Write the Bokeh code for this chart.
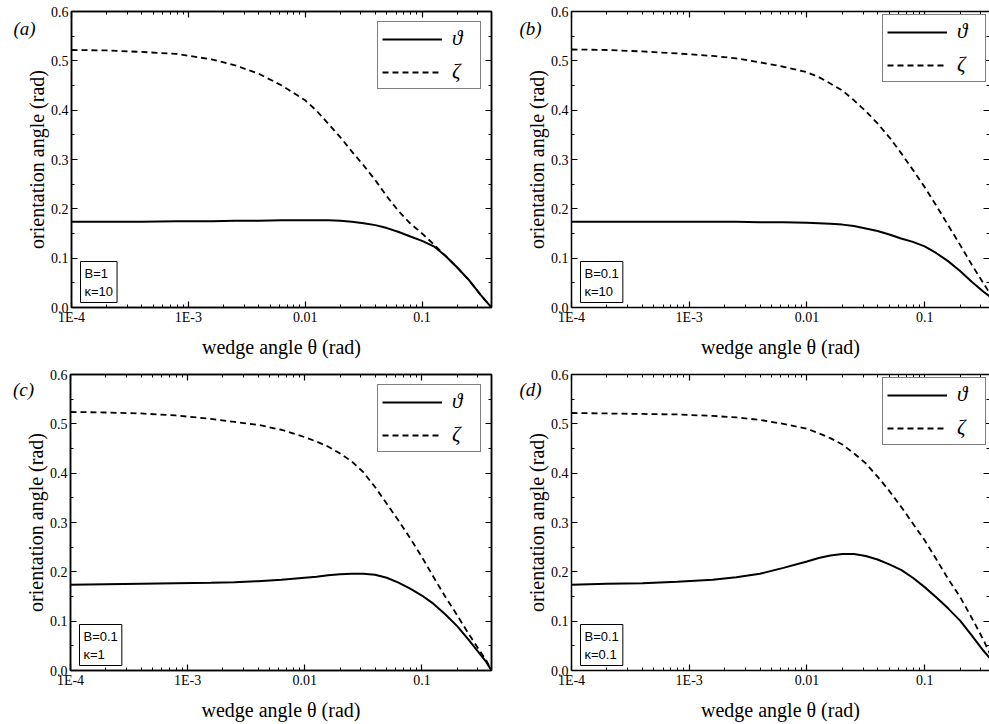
from bokeh.plotting import figure
from bokeh.layouts import column, row
from bokeh.models import (Range1d, LogAxis, LinearAxis, FixedTicker, NumeralTickFormatter,
                          Legend, LegendItem, Label, CustomJSTickFormatter)
from bokeh.embed import file_html
from bokeh.resources import INLINE

# ---------------- data ----------------
wedge = [1e-4, 2e-4, 4e-4, 7.9e-4, 1.58e-3, 2.51e-3, 3.98e-3, 6.31e-3, 0.01, 0.0126,
         0.0158, 0.02, 0.0251, 0.0316, 0.0398, 0.0501, 0.0631, 0.0794, 0.1, 0.126,
         0.158, 0.2, 0.251, 0.316, 0.355, 0.3927]

theta_a = [.174, .174, .174, .175, .175, .176, .176, .177, .177, .177, .177, .176, .174,
           .171, .167, .161, .153, .144, .135, .124, .105, .081, .056, .026, .012, 0.0]
zeta_a = [.522, .521, .518, .514, .503, .491, .474, .450, .420, .398, .372, .345, .316,
          .288, .258, .225, .195, .170, .150, .128, .105, .081, .056, .026, .012, 0.0]

theta_b = [.174, .174, .174, .174, .174, .174, .173, .173, .172, .171, .170, .168, .165,
           .160, .155, .148, .140, .133, .124, .110, .094, .074, .052, .032, .023, .013]
zeta_b = [.523, .522, .519, .515, .510, .505, .497, .488, .477, .467, .454, .440, .420,
          .398, .373, .345, .313, .279, .244, .206, .167, .127, .087, .049, .030, .013]

theta_c = [.174, .175, .176, .177, .178, .179, .181, .184, .188, .190, .193, .195, .196,
           .196, .194, .188, .178, .166, .152, .135, .114, .090, .062, .032, .017, 0.0]
zeta_c = [.524, .523, .521, .517, .510, .504, .498, .488, .473, .464, .454, .440, .424,
          .402, .372, .338, .304, .268, .230, .189, .150, .112, .074, .038, .020, 0.0]

theta_d = [.174, .176, .177, .180, .184, .189, .196, .208, .221, .228, .233, .236, .236,
           .232, .225, .215, .204, .188, .169, .148, .126, .101, .071, .040, .026, .012]
zeta_d = [.522, .521, .520, .519, .516, .513, .508, .500, .490, .481, .471, .458, .440,
          .420, .393, .364, .332, .298, .264, .225, .186, .149, .107, .062, .036, .015]

x_major = [1e-4, 1e-3, 1e-2, 1e-1]
x_tick_labels = ["1E-4", "1E-3", "0.01", "0.1"]
y_major = [0.0, 0.1, 0.2, 0.3, 0.4, 0.5, 0.6]
y_minor = [0.05, 0.15, 0.25, 0.35, 0.45, 0.55]

panel_tags = ["(a)", "(b)", "(c)", "(d)"]
param_text = ["B=1\nκ=10", "B=0.1\nκ=10", "B=0.1\nκ=1", "B=0.1\nκ=0.1"]
series_names = ["ϑ", "ζ"]

SERIF = "Liberation Serif"
SANS = "Liberation Sans"

x_minor = [k * t for t in x_major for k in range(2, 10)]


def style_axis(ax, labels=True):
    ax.axis_line_color = "black"
    ax.axis_line_width = 1.5
    ax.major_tick_line_color = "black"
    ax.minor_tick_line_color = "black"
    ax.major_tick_line_width = 1.2
    ax.minor_tick_line_width = 1
    ax.major_tick_in = 6
    ax.major_tick_out = 0
    ax.minor_tick_in = 3
    ax.minor_tick_out = 0
    ax.major_label_text_font = SERIF
    if labels:
        ax.major_label_text_color = "black"
        ax.major_label_text_font_size = "14px"
    else:
        ax.major_label_text_color = None
        ax.major_label_text_font_size = "1px"
        ax.major_label_standoff = 0


def make_panel(idx, theta, zeta, xmax, width, height, bl, br, bt, bb, full_frame,
               tag_dx, tag_dy):
    p = figure(width=width, height=height, x_axis_type="log",
               x_range=Range1d(1e-4, xmax), y_range=Range1d(0, 0.6),
               output_backend="svg", toolbar_location=None,
               min_border_left=bl, min_border_right=br,
               min_border_top=bt, min_border_bottom=bb)
    p.grid.visible = False
    p.background_fill_color = "white"
    p.border_fill_color = "white"
    if full_frame:
        p.outline_line_color = "black"
        p.outline_line_width = 1.5
    else:
        p.outline_line_color = None

    xt = FixedTicker(ticks=x_major, minor_ticks=x_minor)
    yt = FixedTicker(ticks=y_major, minor_ticks=y_minor)
    xfmt = CustomJSTickFormatter(args=dict(majors=x_major, names=x_tick_labels), code="""
        for (let i = 0; i < majors.length; i++) {
            if (Math.abs(majors[i] - tick) < majors[i] * 1e-6) { return names[i]; }
        }
        return '';
    """)

    bx = p.xaxis[0]
    bx.ticker = xt
    bx.formatter = xfmt
    style_axis(bx)
    bx.major_label_standoff = 2
    bx.axis_label = "wedge angle θ (rad)"
    bx.axis_label_text_font = SERIF
    bx.axis_label_text_font_style = "normal"
    bx.axis_label_text_font_size = "20px"
    bx.axis_label_text_color = "black"
    bx.axis_label_standoff = 8

    ly = p.yaxis[0]
    ly.ticker = yt
    ly.formatter = NumeralTickFormatter(format="0.0")
    style_axis(ly)
    ly.major_label_standoff = 3
    ly.axis_label = "orientation angle (rad)"
    ly.axis_label_text_font = SERIF
    ly.axis_label_text_font_style = "normal"
    ly.axis_label_text_font_size = "20px"
    ly.axis_label_text_color = "black"
    ly.axis_label_standoff = 0

    tx = LogAxis(ticker=xt, formatter=xfmt)
    style_axis(tx, labels=False)
    p.add_layout(tx, "above")
    ry = LinearAxis(ticker=yt)
    style_axis(ry, labels=False)
    if not full_frame:
        ry.axis_line_color = None
    p.add_layout(ry, "right")

    r1 = p.line(wedge, theta, line_color="black", line_width=2)
    r2 = p.line(wedge, zeta, line_color="black", line_width=1.8, line_dash="6 4")

    legend = Legend(items=[LegendItem(label=series_names[0], renderers=[r1]),
                           LegendItem(label=series_names[1], renderers=[r2])],
                    location="top_right", margin=10 if full_frame else 3,
                    padding=4, spacing=8, glyph_width=60, glyph_height=24,
                    label_height=24, label_width=24, label_standoff=10,
                    label_text_font=SERIF, label_text_font_style="italic",
                    label_text_font_size="21px", label_text_color="black",
                    border_line_color="black", border_line_width=1,
                    background_fill_color="white", background_fill_alpha=1.0)
    p.add_layout(legend)

    p.add_layout(Label(x=1e-4, y=0.0, x_offset=9, y_offset=5, text=param_text[idx],
                       text_font=SANS, text_font_size="13px", text_color="black",
                       text_align="left", text_baseline="bottom",
                       border_line_color="black", border_line_width=1,
                       background_fill_color="white", padding=4))

    tag = Label(x=1e-4, y=0.6, x_offset=tag_dx, y_offset=tag_dy, text=panel_tags[idx],
                text_font=SERIF, text_font_style="italic", text_font_size="19px",
                text_color="black", text_align="center", text_baseline="middle")
    p.add_layout(tag, "left")
    return p


left_xmax = 0.3927
right_xmax = 10 ** (-4 + 419 / 118.0)

pa = make_panel(0, theta_a, zeta_a, left_xmax, 500, 362, 67, 9, 11, 55, True, -47, -17)
pb = make_panel(1, theta_b, zeta_b, right_xmax, 489, 362, 70, 0, 11, 55, False, -41, -17)
pc = make_panel(2, theta_c, zeta_c, left_xmax, 500, 362, 67, 9, 12, 54, True, -47, -15)
pd = make_panel(3, theta_d, zeta_d, right_xmax, 489, 362, 70, 0, 12, 54, False, -41, -15)

layout = column(row(pa, pb), row(pc, pd))

with open("out.html", "w") as f:
    f.write(file_html(layout, INLINE))
